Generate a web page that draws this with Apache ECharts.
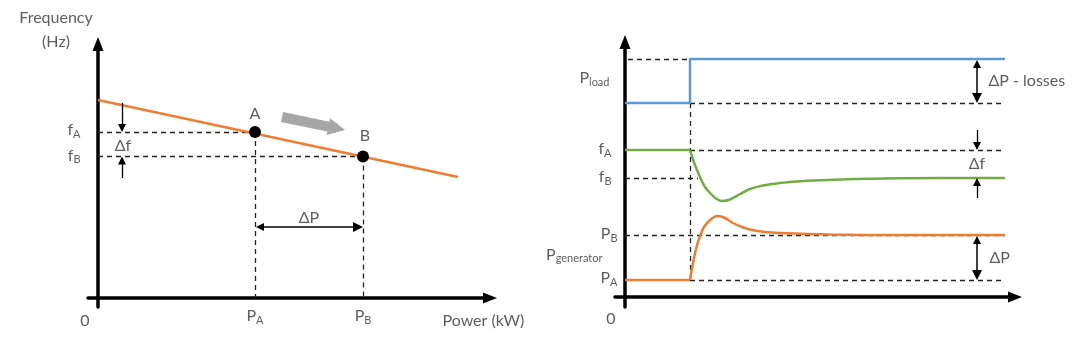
<!DOCTYPE html>
<html><head><meta charset="utf-8">
<script src="https://cdn.jsdelivr.net/npm/echarts@6/dist/echarts.min.js"></script>
<style>html,body{margin:0;padding:0;background:#fff}#c{width:1080px;height:344px}</style>
</head><body><div id="c"></div>
<script>
// ===== Left panel: droop characteristic (schematic units) =====
const droopP = [0, 36];            // power (kW, schematic)
const droopF = [19.8, 12.1];       // frequency (Hz, schematic)
const opNames = ['A', 'B'];
const opP = [15.7, 26.5];          // P_A, P_B
const opF = [16.6, 14.15];         // f_A, f_B
const dfArrowX = 2.4;
const dfArrowTail = [19.5, 12.0];  // tails of the Δf arrows (above f_A, below f_B)
const dPArrowY = 7.1;
const moveArrowP = [18.4, 24.7];
const moveArrowF = [18.1, 16.8];
const leftXTickLabels = ['0', 'P_A', 'P_B'];
const leftYTickLabels = ['f_A', 'f_B'];
const leftAxisNames = ['Power (kW)', 'Frequency\n(Hz)'];

// ===== Right panel: time response (schematic units) =====
const loadT = [0, 6.5, 6.5, 38];
const loadV = [19.4, 19.4, 23.8, 23.8];
const freqFlatT = [0, 6.5];
const freqFlatV = [14.7, 14.7];
const freqT = [6.5, 7.0, 7.5, 8.0, 8.5, 9.1, 9.7, 10.5, 11.5, 12.5, 13.8, 15.5, 17.2, 19.5, 22.2, 27.5, 38];
const freqV = [14.7, 13.2, 12.0, 11.0, 10.4, 9.85, 9.6, 9.75, 10.3, 10.8, 11.15, 11.4, 11.55, 11.68, 11.78, 11.88, 11.9];
const genFlatT = [0, 6.5];
const genFlatV = [1.7, 1.7];
const genT = [6.5, 6.8, 7.1, 7.5, 7.9, 8.4, 8.9, 9.3, 10.0, 10.8, 11.7, 12.5, 14.0, 15.5, 20.5, 27.5, 38];
const genV = [1.7, 3.4, 4.8, 6.1, 7.0, 7.6, 8.0, 8.1, 7.9, 7.4, 7.0, 6.75, 6.5, 6.4, 6.25, 6.2, 6.2];
const tStep = 6.5, tEnd = 38;
const rightLevels = { loadLow: 19.4, loadHigh: 23.8, fA: 14.7, fB: 11.9, PB: 6.2, PA: 1.7 };
const rightArrowT = 35.2;
const rightYTickLabels = ['P_load', 'f_A', 'f_B', 'P_B', 'P_generator', 'P_A'];
const rightNotes = ['ΔP - losses', 'Δf', 'ΔP'];

// ===== styling =====
const FONT = 'Lato';
const TXT = '#333333';
const ORANGE = '#ED7D31', BLUE = '#5B9BD5', GREEN = '#70AD47', GRAY = '#A6A6A6';
const U = 10; // px per schematic unit (grids sized accordingly)

const zip = (a, b) => a.map((v, i) => [v, b[i]]);
function rt(label) {
  const [a, b] = label.split('_');
  return b ? `{m|${a}}{s|${b}}` : `{m|${a}}`;
}
const rich = {
  m: { fontSize: 16, fontFamily: FONT, color: TXT, lineHeight: 19 },
  s: { fontSize: 11, fontFamily: FONT, color: TXT, verticalAlign: 'bottom', lineHeight: 13, padding: [10, 0, 0, 0] }
};

function axisPair(gi, xmin, xmax, ymin, ymax) {
  const line = { show: true, onZero: true, symbol: ['none', 'triangle'], symbolSize: [11, 14],
    lineStyle: { color: '#000', width: 3.5 } };
  const common = { type: 'value', gridIndex: gi, axisLine: line, axisTick: { show: false },
    axisLabel: { show: false }, splitLine: { show: false } };
  return [
    Object.assign({}, common, { min: xmin, max: xmax }),
    Object.assign({}, common, { min: ymin, max: ymax })
  ];
}
const [lx, ly] = axisPair(0, -1, 39.2, -0.9, 25.4);
const [rx, ry] = axisPair(1, -1, 39, -1, 25.5);

function dashed(gi, segs) {
  return { type: 'lines', coordinateSystem: 'cartesian2d', xAxisIndex: gi, yAxisIndex: gi, z: 1,
    lineStyle: { color: '#222', width: 1.3, type: [5, 4], opacity: 1 },
    data: segs.map(s => ({ coords: s })) };
}
// arrow: head size [w,h] px; endpoints shortened so tips land on targets
function arrows(gi, segs, size, width, color, both) {
  const data = segs.map(([p, q]) => {
    const dx = q[0] - p[0], dy = q[1] - p[1];
    const len = Math.hypot(dx, dy);
    const k = size[1] / 2 / U / len;
    const q2 = [q[0] - dx * k, q[1] - dy * k];
    const p2 = both ? [p[0] + dx * k, p[1] + dy * k] : p;
    return { coords: [p2, q2] };
  });
  return { type: 'lines', coordinateSystem: 'cartesian2d', xAxisIndex: gi, yAxisIndex: gi, z: 3,
    symbol: [both ? 'triangle' : 'none', 'triangle'], symbolSize: size,
    lineStyle: { color, width, opacity: 1 }, itemStyle: { color },
    data };
}
function texts(gi, items) {
  return { type: 'scatter', xAxisIndex: gi, yAxisIndex: gi, symbolSize: 1, z: 5, silent: true,
    itemStyle: { color: 'rgba(0,0,0,0)' },
    label: { show: true, color: TXT, fontFamily: FONT, fontSize: 16, rich },
    data: items.map(it => ({ value: it.at, label: Object.assign({ formatter: it.text }, it.label) })) };
}

const [PA_, PB_] = opP, [fA_, fB_] = opF;
const rl = rightLevels;

const series = [
  // ---- left
  dashed(0, [
    [[0, fA_], [PA_, fA_]], [[PA_, fA_], [PA_, 0]],
    [[0, fB_], [PB_, fB_]], [[PB_, fB_], [PB_, 0]]
  ]),
  { type: 'line', xAxisIndex: 0, yAxisIndex: 0, data: zip(droopP, droopF), showSymbol: false, z: 2,
    lineStyle: { color: ORANGE, width: 2.5 } },
  { type: 'scatter', xAxisIndex: 0, yAxisIndex: 0, data: zip(opP, opF), symbolSize: 12, z: 4,
    itemStyle: { color: '#000', opacity: 1 } },
  arrows(0, [[[moveArrowP[0], moveArrowF[0]], [moveArrowP[1], moveArrowF[1]]]], [22, 17], 10, GRAY, false),
  arrows(0, [[[PA_, dPArrowY], [PB_, dPArrowY]]], [8, 10], 1.5, '#000', true),
  arrows(0, [[[dfArrowX, dfArrowTail[0]], [dfArrowX, fA_]], [[dfArrowX, dfArrowTail[1]], [dfArrowX, fB_]]], [7, 8], 1.3, '#000', false),
  texts(0, [
    { at: [0, 25.4], text: leftAxisNames[1], label: { position: 'inside', offset: [-42, -14], lineHeight: 24, fontSize: 16 } },
    { at: [39.2, 0], text: leftAxisNames[0], label: { position: [-47, 15], fontSize: 16 } },
    { at: [0, 0], text: rt(leftXTickLabels[0]), label: { position: 'bottom', distance: 13, offset: [-13, 0] } },
    { at: [PA_, 0], text: rt(leftXTickLabels[1]), label: { position: 'bottom', distance: 8 } },
    { at: [PB_, 0], text: rt(leftXTickLabels[2]), label: { position: 'bottom', distance: 8 } },
    { at: [0, fA_], text: rt(leftYTickLabels[0]), label: { position: 'left', distance: 17, offset: [0, -2] } },
    { at: [0, fB_], text: rt(leftYTickLabels[1]), label: { position: 'left', distance: 17, offset: [0, -1] } },
    { at: [PA_, fA_], text: opNames[0], label: { position: 'top', distance: 10 } },
    { at: [PB_, fB_], text: opNames[1], label: { position: 'top', distance: 12, offset: [2, 0] } },
    { at: [dfArrowX, (fA_ + fB_) / 2], text: 'Δf', label: { position: 'inside', offset: [1, 2] } },
    { at: [(PA_ + PB_) / 2, dPArrowY], text: 'ΔP', label: { position: 'top', distance: 1 } }
  ]),
  // ---- right
  dashed(1, [
    [[0.3, rl.loadHigh], [tStep, rl.loadHigh]],
    [[tStep, rl.loadLow], [tEnd, rl.loadLow]],
    [[tStep, rl.fA], [tEnd, rl.fA]],
    [[0, rl.fB], [7.3, rl.fB]],
    [[0, rl.PB], [tEnd, rl.PB]],
    [[tStep, rl.PA], [tEnd, rl.PA]],
    [[tStep, rl.loadLow], [tStep, rl.PA]]
  ]),
  { type: 'line', xAxisIndex: 1, yAxisIndex: 1, data: zip(loadT, loadV), showSymbol: false, z: 2,
    lineStyle: { color: BLUE, width: 2.5 } },
  { type: 'line', xAxisIndex: 1, yAxisIndex: 1, data: zip(freqFlatT, freqFlatV), showSymbol: false, z: 2,
    lineStyle: { color: GREEN, width: 2.5 } },
  { type: 'line', xAxisIndex: 1, yAxisIndex: 1, data: zip(freqT, freqV), showSymbol: false, z: 2,
    smooth: 0.3, lineStyle: { color: GREEN, width: 2.5 } },
  { type: 'line', xAxisIndex: 1, yAxisIndex: 1, data: zip(genFlatT, genFlatV), showSymbol: false, z: 2,
    lineStyle: { color: ORANGE, width: 2.5 } },
  { type: 'line', xAxisIndex: 1, yAxisIndex: 1, data: zip(genT, genV), showSymbol: false, z: 2,
    smooth: 0.3, lineStyle: { color: ORANGE, width: 2.5 } },
  arrows(1, [[[rightArrowT, rl.loadHigh], [rightArrowT, rl.loadLow]], [[rightArrowT, rl.PB], [rightArrowT, rl.PA]]], [8, 10], 1.5, '#000', true),
  arrows(1, [[[rightArrowT, 16.7], [rightArrowT, rl.fA]], [[rightArrowT, 9.9], [rightArrowT, rl.fB]]], [7, 8], 1.3, '#000', false),
  texts(1, [
    { at: [0, (rl.loadLow + rl.loadHigh) / 2], text: rt(rightYTickLabels[0]), label: { position: 'left', distance: 15, offset: [0, -3] } },
    { at: [0, rl.fA], text: rt(rightYTickLabels[1]), label: { position: 'left', distance: 13, offset: [0, -1] } },
    { at: [0, rl.fB], text: rt(rightYTickLabels[2]), label: { position: 'left', distance: 13, offset: [0, -1] } },
    { at: [0, rl.PB], text: rt(rightYTickLabels[3]), label: { position: 'left', distance: 7, offset: [0, -1] } },
    { at: [0, (rl.PA + rl.PB) / 2], text: rt(rightYTickLabels[4]), label: { position: 'left', distance: 22, offset: [0, -3] } },
    { at: [0, rl.PA], text: rt(rightYTickLabels[5]), label: { position: 'left', distance: 7, offset: [0, -2] } },
    { at: [0, 0], text: '0', label: { position: 'bottom', distance: 13, offset: [-14, 0] } },
    { at: [rightArrowT, (rl.loadLow + rl.loadHigh) / 2], text: rightNotes[0], label: { position: 'right', distance: 11 } },
    { at: [rightArrowT, (rl.fA + rl.fB) / 2], text: rightNotes[1], label: { position: 'inside' } },
    { at: [rightArrowT, (rl.PA + rl.PB) / 2], text: rightNotes[2], label: { position: 'right', distance: 12 } }
  ])
];

const chart = echarts.init(document.getElementById('c'), null, { renderer: 'canvas' });
chart.setOption({
  animation: false,
  backgroundColor: '#fff',
  grid: [
    { left: 88, top: 44, width: 402, height: 263 },
    { left: 615, top: 42, width: 400, height: 265 }
  ],
  xAxis: [lx, rx],
  yAxis: [ly, ry],
  series
});
</script></body></html>
